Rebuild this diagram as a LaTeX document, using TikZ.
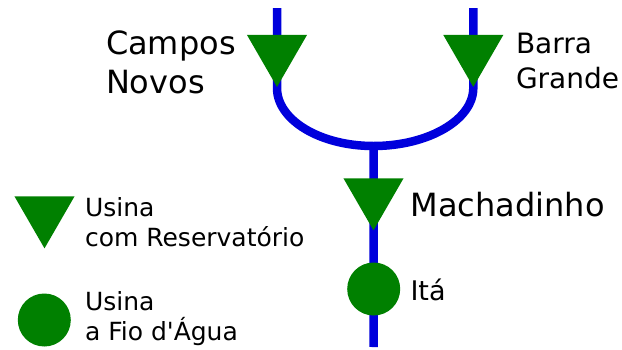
\documentclass[tikz,border=0pt]{standalone}
\usepackage{fontspec}
\setmainfont{DejaVu Sans}
\newfontfamily\plainfont{DejaVu Sans}
\usetikzlibrary{shapes.geometric,backgrounds}
\definecolor{riverblue}{RGB}{0,0,220}
\definecolor{plantgreen}{RGB}{0,128,0}
\tikzset{
  river/.style={draw=riverblue,line width=8.5pt},
  resplant/.style={regular polygon,regular polygon sides=3,shape border rotate=180,
    fill=plantgreen,draw=none,inner sep=0pt,outer sep=0pt,minimum size=69.3pt},
  rorplant/.style={circle,fill=plantgreen,draw=none,inner sep=0pt,minimum size=53pt},
  lbl/.style={anchor=base west,inner sep=0pt,outer sep=0pt,text=black},
  bigtxt/.style={lbl,font=\plainfont\fontsize{32}{39}\selectfont},
  midtxt/.style={lbl,font=\plainfont\fontsize{27}{33}\selectfont},
  bgtxt/.style={lbl,font=\plainfont\fontsize{28}{35}\selectfont},
  smalltxt/.style={lbl,font=\plainfont\fontsize{25}{30}\selectfont},
}
\begin{document}
\begin{tikzpicture}[x=1pt,y=-1pt]
\useasboundingbox (0,0) rectangle (622,349);
% plants
\node[resplant] (cn) at (277,52.3) {};
\node[resplant] (bg) at (473.3,52.3) {};
\node[resplant] (mach) at (373.5,195.7) {};
\node[rorplant] (ita) at (373.7,289) {};
\node[resplant] (legres) at (44.5,213.7) {};
\node[rorplant] (legror) at (44.3,320) {};
% river coordinates
\coordinate (srccn) at (277,8);
\coordinate (srcbg) at (473.3,8);
\coordinate (j) at (373.5,146);
\coordinate (mouth) at (373.5,347);
\begin{pgfonlayer}{background}
\fill[white] (0,0) rectangle (622,349);
\draw[river] (srccn) -- (cn.center) -- (277,88)
  .. controls (277,120) and (320,146) .. (j)
  .. controls (428,146) and (473.3,120) .. (473.3,88) -- (bg.center) -- (srcbg);
\draw[river] (j) -- (mach.center) -- (ita.center) -- (mouth);
\end{pgfonlayer}
% labels
\node[bigtxt] (t1) at (106,54) {Campos};
\node[bigtxt] (t2) at (106,93) {Novos};
\node[bgtxt] (t3) at (516,53.5) {Barra};
\node[bgtxt] (t4) at (516,88.5) {Grande};
\node[bigtxt] (t5) at (410.5,216.5) {Machadinho};
\node[midtxt] (t6) at (410.5,300) {Itá};
\node[smalltxt] (t7) at (85,216) {Usina};
\node[smalltxt] (t8) at (85,246) {com Reservatório};
\node[smalltxt] (t9) at (85,310) {Usina};
\node[smalltxt] (t10) at (85,340) {a Fio d'Água};
\end{tikzpicture}
\end{document}
